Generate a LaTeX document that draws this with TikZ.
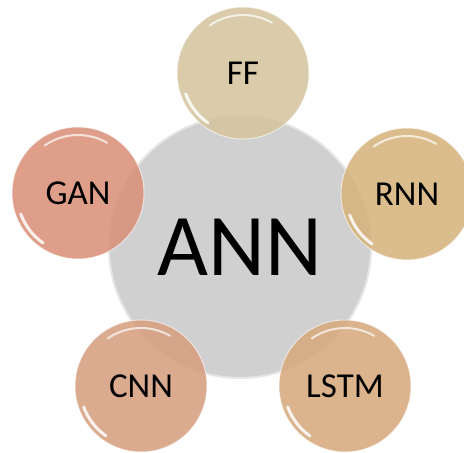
\documentclass[tikz,border=0pt]{standalone}
\usepackage{fontspec}
\setmainfont{Carlito}
\definecolor{cFF}{HTML}{D5C59F}
\definecolor{cRNN}{HTML}{D6B47D}
\definecolor{cGAN}{HTML}{D9917A}
\definecolor{cCNN}{HTML}{D69F80}
\definecolor{cLSTM}{HTML}{D6A97C}
\definecolor{cANN}{HTML}{D0D0D0}
\begin{document}
\begin{tikzpicture}[x=1pt,y=-1pt,
  bubble/.style={circle, minimum size=132pt, inner sep=0pt, fill opacity=0.88, text opacity=1,
     draw=white, draw opacity=0.6, line width=1pt, font=\fontsize{35}{40}\selectfont},
  hub/.style={circle, minimum size=262pt, inner sep=0pt, fill=cANN, draw=gray!20, line width=2pt,
     font=\fontsize{88}{100}\selectfont},
  shine/.style={white, line width=2pt, opacity=0.7, line cap=round}]
\useasboundingbox (0,0) rectangle (464,453);
\node[hub] (ann) at (240,247) {ANN};
\node[bubble, fill=cFF] (ff) at (243,73) {FF};
\node[bubble, fill=cRNN] (rnn) at (407,194) {RNN};
\node[bubble, fill=cGAN] (gan) at (78,193) {GAN};
\node[bubble, fill=cCNN] (cnn) at (141,386) {CNN};
\node[bubble, fill=cLSTM] (lstm) at (345,386) {LSTM};
\foreach \n in {ff,rnn,gan,cnn,lstm}{
  \draw[shine] (\n.center) ++(-125:58) arc[start angle=-125, end angle=-60, radius=58];
  \draw[shine, line width=3pt, opacity=0.85] (\n.center) ++(160:61) arc[start angle=160, end angle=125, radius=61];
}
\end{tikzpicture}
\end{document}
